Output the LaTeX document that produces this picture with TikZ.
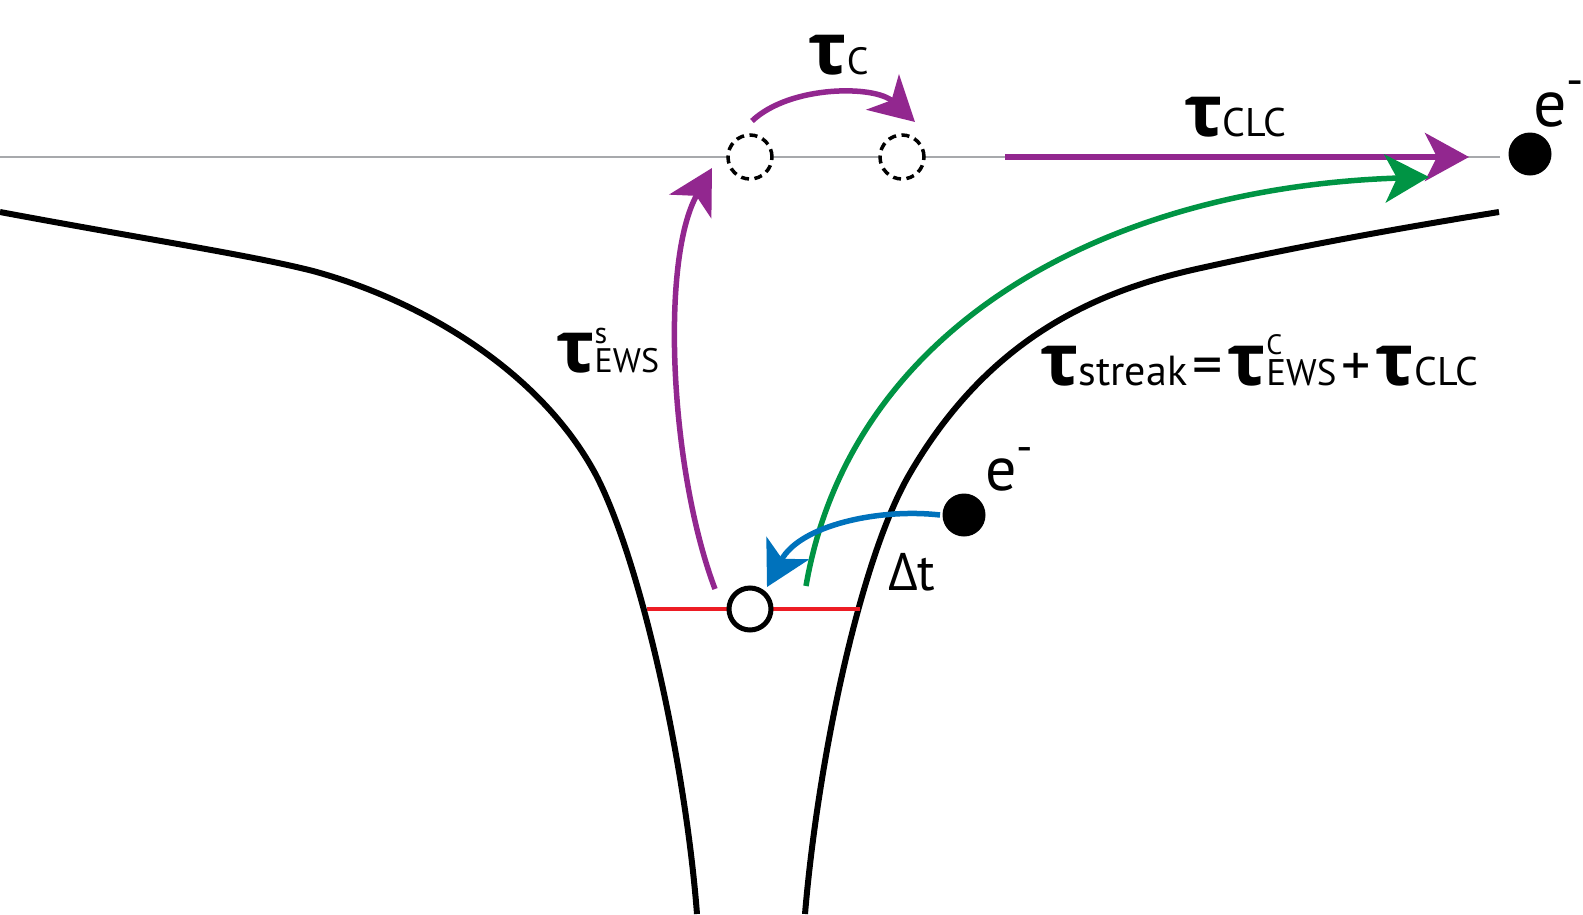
\documentclass[tikz,border=0pt]{standalone}
\usepackage{fontspec}
\setmainfont{PT Sans}
\newfontfamily\grk{Open Sans}
\usetikzlibrary{arrows.meta}
\definecolor{pur}{HTML}{92278F}
\definecolor{grn}{HTML}{009444}
\definecolor{blu}{HTML}{0072BC}
\definecolor{rd}{HTML}{ED1C24}
\definecolor{gry}{HTML}{A7A9AC}
\newcommand\sz[1]{\fontsize{#1}{#1}\selectfont}
\newcommand\tauA{{\grk\bfseries\sz{72}τ}}
\tikzset{
  funnel/.style={line width=6pt, line join=round},
  head/.style={-{Stealth[length=44pt,width=48pt,inset=12pt]}},
  parrow/.style={head, draw=pur, line width=5.5pt},
  garrow/.style={head, draw=grn, line width=5.5pt},
  barrow/.style={head, draw=blu, line width=5.5pt},
  dashcirc/.style={circle, draw, fill=white, minimum size=44pt, line width=3.5pt, dash pattern=on 8pt off 5.5pt},
  opencirc/.style={circle, draw, fill=white, minimum size=42pt, line width=5pt},
  dot/.style={circle, fill=black, minimum size=43pt},
  lbl/.style={anchor=base west, inner sep=0pt},
  sup/.style={anchor=south west, inner sep=0pt, yshift=4pt},
}
\begin{document}
\begin{tikzpicture}[x=1pt, y=-1pt, every node/.style={inner sep=0pt, outer sep=0pt}]
\useasboundingbox (0,0) rectangle (1583,914);
% axis line
\coordinate (gL) at (0,157);
\coordinate (gR) at (1500,157);
\draw[gry, line width=2pt] (gL) -- (gR);
% funnel walls
\draw[funnel] (0,212) .. controls (150,240) and (250,255) .. (313,271)
  .. controls (420,300) and (540,370) .. (596,475)
  .. controls (640,560) and (685,760) .. (697,914);
\draw[funnel] (805,914) .. controls (818,760) and (860,560) .. (909,475)
  .. controls (990,335) and (1100,290) .. (1201,268)
  .. controls (1300,246) and (1400,228) .. (1499,212);
% red level
\coordinate (rL) at (647,609);
\coordinate (rR) at (860,609);
\draw[rd, line width=4.5pt] (rL) -- (rR);
% circles and electrons
\node[opencirc] (hole) at (750,609) {};
\node[dashcirc] (cA) at (750,157) {};
\node[dashcirc] (cB) at (902,157) {};
\node[dot] (eTop) at (1530,154) {};
\node[dot] (eMid) at (964,515) {};
% arrows
\coordinate (clcS) at (1005,157);
\coordinate (clcE) at (1469,157);
\draw[parrow] (clcS) -- (clcE);
\coordinate (arcS) at (752,121);
\coordinate (arcE) at (915,122);
\draw[parrow] (arcS) .. controls (790,85) and (875,85) .. (arcE);
\coordinate (ewsS) at (715,589);
\coordinate (ewsE) at (712,168);
\draw[parrow] (ewsS) .. controls (670,470) and (660,260) .. (ewsE);
\coordinate (grS) at (806,586);
\coordinate (grE) at (1429,177);
\draw[garrow] (grS) .. controls (850,330) and (1100,188) .. (grE);
\coordinate (blS) at (940,515);
\coordinate (blE) at (767,587);
\draw[barrow] (blS) .. controls (880,508) and (800,525) .. (blE);
% labels
\node[lbl] (tC) at (808,74) {\tauA{\sz{38}C}};
\node[lbl] (tCLC) at (1184,136) {\tauA{\sz{40}CLC}};
\node[lbl] (tEWSa) at (556,372) {\tauA};
\node[lbl] (tEWS) at (tEWSa.base east) {\sz{34}EWS};
\node[sup] (tEWSs) at (tEWS.north west) {\sz{30}s};
\node[lbl] (eqA) at (1040,385) {\tauA{\sz{42}streak}\kern5pt{\sz{60}=}\kern5pt\tauA};
\node[lbl] (eqB) at (eqA.base east) {\sz{37}EWS};
\node[sup] (eqC) at (eqB.north west) {\sz{28}C};
\node[lbl] (eqD) at (eqB.base east) {\kern5pt{\sz{58}+}\kern5pt\tauA{\sz{40}CLC}};
\node[lbl] (eT) at (1533,126) {\sz{66}e\raisebox{30pt}{\sz{48}-}};
\node[lbl] (eM) at (985,490) {\sz{62}e\raisebox{28pt}{\sz{46}-}};
\node[lbl] (dt) at (888,590) {{\grk\sz{52}Δ}{\sz{52}t}};
\end{tikzpicture}
\end{document}
